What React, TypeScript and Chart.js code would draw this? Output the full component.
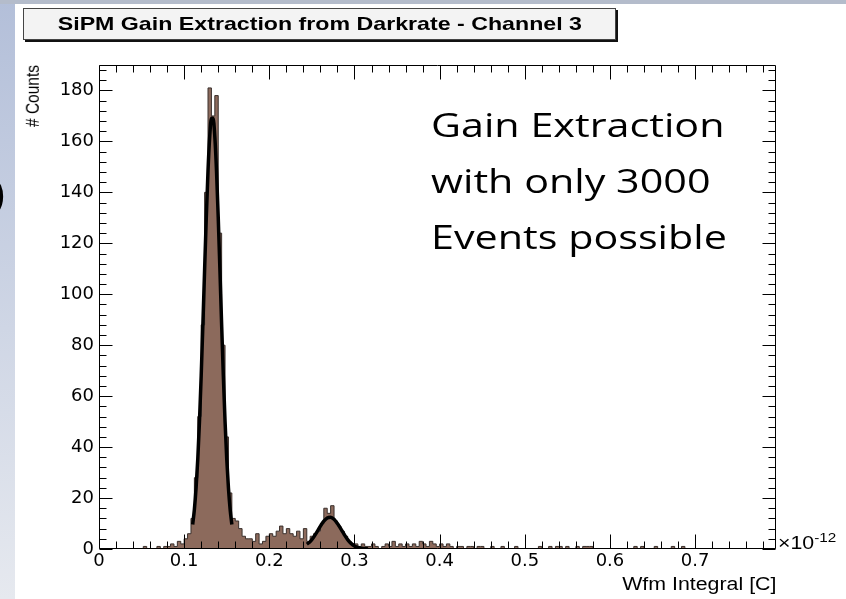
import React, { useEffect, useRef } from "react";
import { Chart, registerables } from "chart.js";

Chart.register(...registerables);

// Histogram of the waveform integral, x in units of 1e-12 C
const binStart = 0;
const binWidth = 0.004;
const binCounts: number[] = [
  0, 0, 0, 0, 0, 0, 0, 0, 0, 0,
  0, 0, 0, 1, 0, 0, 0, 1, 0, 1,
  1, 2, 1, 3, 2, 4, 6, 12, 28, 52,
  88, 140, 181, 170, 178, 124, 80, 44, 22, 12,
  11, 8, 5, 4, 4, 3, 6, 2, 3, 5,
  6, 5, 7, 9, 6, 8, 6, 5, 7, 4,
  8, 3, 5, 6, 7, 10, 16, 14, 17, 11,
  9, 7, 5, 3, 2, 2, 1, 2, 1, 1,
  2, 1, 0, 1, 2, 1, 3, 1, 2, 1,
  2, 1, 2, 1, 3, 2, 1, 3, 2, 1,
  2, 1, 2, 1, 0, 1, 1, 0, 1, 1,
  0, 1, 1, 0, 0, 1, 0, 0, 1, 0,
  0, 0, 1, 0, 0, 0, 0, 0, 0, 1,
  0, 0, 1, 0, 1, 1, 0, 1, 0, 0,
  1, 0, 1, 1, 1, 0, 0, 0, 0, 0,
  0, 0, 0, 0, 0, 0, 0, 1, 0, 1,
  0, 0, 0, 1, 0, 0, 0, 0, 1, 0,
  0, 1, 0, 0, 0, 0, 0, 0, 0, 0,
  0, 0, 0, 0, 0, 0, 0, 0, 0, 0,
  0, 0, 0, 0, 0, 0, 0, 0, 0,
];

// Gaussian fit of the single photo-electron peak
const fitPeak1X = [
  0.11, 0.112, 0.114, 0.116, 0.118, 0.12, 0.122, 0.124, 0.126, 0.128, 0.13, 0.132,
  0.134, 0.136, 0.138, 0.14, 0.142, 0.144, 0.146, 0.148, 0.15, 0.152, 0.154, 0.156,
];
const fitPeak1Y = [
  9.6, 15.5, 24.0, 35.4, 50.2, 68.0, 88.2, 109.5, 130.3, 148.4, 161.9, 169.1,
  169.1, 161.9, 148.4, 130.3, 109.5, 88.2, 68.0, 50.2, 35.4, 24.0, 15.5, 9.6,
];

// Gaussian fit of the two photo-electron peak
const fitPeak2X = [
  0.244, 0.248, 0.252, 0.256, 0.26, 0.264, 0.268, 0.272, 0.276, 0.28,
  0.284, 0.288, 0.292, 0.296, 0.3, 0.304, 0.308, 0.312, 0.316,
];
const fitPeak2Y = [
  1.9, 2.9, 4.6, 6.7, 9.0, 10.9, 12.2, 12.5, 11.7, 10.0,
  7.9, 5.7, 3.7, 2.2, 1.2, 0.6, 0.3, 0.12, 0.05,
];

const xRange = [0, 0.795];
const yRange = [0, 190];
const xTicks = [0, 0.1, 0.2, 0.3, 0.4, 0.5, 0.6, 0.7];
const xTickLabels = ["0", "0.1", "0.2", "0.3", "0.4", "0.5", "0.6", "0.7"];
const yTicks = [0, 20, 40, 60, 80, 100, 120, 140, 160, 180];
const xMinorStep = 0.02;
const yMinorStep = 4;

const ROOT_FONT = "'Liberation Sans', Arial, sans-serif";
const STRETCH = 1.22;

// ROOT-style frame with inward major/minor ticks on all four sides
const frameTicks = {
  id: "frameTicks",
  afterDatasetsDraw(chart: any) {
    const { ctx, chartArea: a, scales } = chart;
    const xs = scales.x;
    const ys = scales.y;
    ctx.save();
    ctx.strokeStyle = "#000";
    ctx.lineWidth = 1;
    const L = Math.round(a.left) + 0.5;
    const R = Math.round(a.right) - 0.5;
    const T = Math.round(a.top) + 0.5;
    const B = Math.round(a.bottom) - 0.5;
    ctx.beginPath();
    ctx.rect(L, T, R - L, B - T);
    ctx.stroke();

    ctx.beginPath();
    const nx = Math.floor(xRange[1] / xMinorStep + 1e-6);
    for (let k = 0; k <= nx; k++) {
      const px = Math.round(xs.getPixelForValue(k * xMinorStep)) + 0.5;
      const len = k % 5 === 0 ? 14 : 7;
      ctx.moveTo(px, B);
      ctx.lineTo(px, B - len);
      ctx.moveTo(px, T);
      ctx.lineTo(px, T + len);
    }
    const ny = Math.floor(yRange[1] / yMinorStep + 1e-6);
    for (let k = 0; k <= ny; k++) {
      const py = Math.round(ys.getPixelForValue(k * yMinorStep)) + 0.5;
      const len = k % 5 === 0 ? 13 : 7;
      ctx.moveTo(L, py);
      ctx.lineTo(L + len, py);
      ctx.moveTo(R, py);
      ctx.lineTo(R - len, py);
    }
    ctx.stroke();
    ctx.restore();
  },
};

export default function App() {
  const canvasRef = useRef<HTMLCanvasElement>(null);

  useEffect(() => {
    const canvas = canvasRef.current;
    if (!canvas) return;

    const histPoints = binCounts.map((c, i) => ({ x: binStart + i * binWidth, y: c }));
    histPoints.push({
      x: binStart + binCounts.length * binWidth,
      y: binCounts[binCounts.length - 1],
    });

    const chart = new Chart(canvas, {
      type: "line",
      data: {
        datasets: [
          {
            label: "hist",
            data: histPoints,
            stepped: "before",
            fill: "origin",
            backgroundColor: "#8c6a5c",
            borderColor: "#3a302c",
            borderWidth: 1,
            pointRadius: 0,
            order: 2,
          },
          {
            label: "fit1",
            data: fitPeak1X.map((x, i) => ({ x, y: fitPeak1Y[i] })),
            borderColor: "#000",
            borderWidth: 3.5,
            pointRadius: 0,
            fill: false,
            cubicInterpolationMode: "monotone",
            order: 1,
          },
          {
            label: "fit2",
            data: fitPeak2X.map((x, i) => ({ x, y: fitPeak2Y[i] })),
            borderColor: "#000",
            borderWidth: 3.5,
            pointRadius: 0,
            fill: false,
            cubicInterpolationMode: "monotone",
            order: 1,
          },
        ],
      },
      options: {
        animation: false,
        responsive: false,
        events: [],
        layout: { padding: { left: 0, top: 65, right: 70, bottom: 0 } },
        plugins: {
          legend: { display: false },
          tooltip: { enabled: false },
          title: { display: false },
        },
        scales: {
          x: {
            type: "linear",
            min: xRange[0],
            max: xRange[1],
            grid: { display: false, drawTicks: false },
            border: { display: false },
            ticks: {
              color: "#000",
              font: { family: "'DejaVu Sans'", size: 18 },
              padding: 2,
              maxRotation: 0,
              autoSkip: false,
              callback: (v: any) => {
                const i = xTicks.findIndex((t) => Math.abs(t - Number(v)) < 1e-9);
                return i >= 0 ? xTickLabels[i] : "";
              },
            },
            afterBuildTicks: (s: any) => {
              s.ticks = xTicks.map((v) => ({ value: v }));
            },
            afterFit: (s: any) => {
              s.height = 50;
            },
          },
          y: {
            type: "linear",
            min: yRange[0],
            max: yRange[1],
            grid: { display: false, drawTicks: false },
            border: { display: false },
            ticks: {
              color: "#000",
              font: { family: "'DejaVu Sans'", size: 18 },
              padding: 5,
              autoSkip: false,
              callback: (v: any) => String(v),
            },
            afterBuildTicks: (s: any) => {
              s.ticks = yTicks.map((v) => ({ value: v }));
            },
            afterFit: (s: any) => {
              s.width = 99;
            },
          },
        },
      },
      plugins: [frameTicks],
    } as any);

    return () => chart.destroy();
  }, []);

  return (
    <div
      style={{
        position: "absolute",
        left: 0,
        top: 0,
        width: 846,
        height: 599,
        overflow: "hidden",
        background: "#ffffff",
      }}
    >
      <div
        style={{
          position: "absolute",
          left: 0,
          top: 0,
          width: 15,
          height: 599,
          background: "linear-gradient(to bottom, #b3bfd9, #e6e9ef)",
        }}
      />
      <div
        style={{
          position: "absolute",
          left: 0,
          top: 0,
          width: 846,
          height: 4,
          background: "#b4bccb",
        }}
      />
      <span
        style={{
          position: "absolute",
          left: -37,
          top: 167,
          fontFamily: "'Open Sans', sans-serif",
          fontSize: 56,
          lineHeight: "56px",
          color: "#000",
          whiteSpace: "nowrap",
        }}
      >
        O
      </span>
      <canvas
        ref={canvasRef}
        width={846}
        height={599}
        style={{ position: "absolute", left: 0, top: 0 }}
      />
      {/* histogram title box */}
      <div
        style={{
          position: "absolute",
          left: 23,
          top: 8,
          width: 591,
          height: 30,
          background: "#f3f3f3",
          border: "1px solid #444",
          boxShadow: "2px 2px 0 #111",
          display: "flex",
          alignItems: "center",
          justifyContent: "center",
          overflow: "visible",
        }}
      >
        <span
          style={{
            fontFamily: ROOT_FONT,
            fontWeight: 700,
            fontSize: 19,
            color: "#000",
            whiteSpace: "nowrap",
            display: "inline-block",
            transform: `scaleX(${STRETCH})`,
          }}
        >
          SiPM Gain Extraction from Darkrate - Channel 3
        </span>
      </div>
      {/* y axis title */}
      <div
        style={{
          position: "absolute",
          left: -7,
          top: 95,
          width: 80,
          height: 20,
          lineHeight: "20px",
          textAlign: "right",
          fontFamily: ROOT_FONT,
          fontSize: 15.5,
          color: "#000",
          whiteSpace: "nowrap",
          transform: `rotate(-90deg) scaleY(${STRETCH})`,
          transformOrigin: "center center",
        }}
      >
        # Counts
      </div>
      {/* x axis title */}
      <div
        style={{
          position: "absolute",
          right: 70,
          top: 575.7,
          lineHeight: "17.5px",
          fontFamily: ROOT_FONT,
          fontSize: 17.5,
          color: "#000",
          whiteSpace: "nowrap",
          transform: `scaleX(${STRETCH})`,
          transformOrigin: "right center",
        }}
      >
        Wfm Integral [C]
      </div>
      {/* axis exponent */}
      <div
        style={{
          position: "absolute",
          left: 778,
          top: 535,
          lineHeight: "17.5px",
          fontFamily: ROOT_FONT,
          fontSize: 17.5,
          color: "#000",
          whiteSpace: "nowrap",
          transform: `scaleX(${STRETCH})`,
          transformOrigin: "left center",
        }}
      >
        ×10
        <span style={{ fontSize: 12.5, position: "relative", top: -7 }}>-12</span>
      </div>
      {/* annotation */}
      <div
        style={{
          position: "absolute",
          left: 431,
          top: 97,
          fontFamily: "'Open Sans', sans-serif",
          fontSize: 32.5,
          lineHeight: "56px",
          color: "#000",
          whiteSpace: "nowrap",
          transform: "scaleX(1.27)",
          transformOrigin: "left top",
        }}
      >
        Gain Extraction
        <br />
        with only 3000
        <br />
        Events possible
      </div>
    </div>
  );
}
